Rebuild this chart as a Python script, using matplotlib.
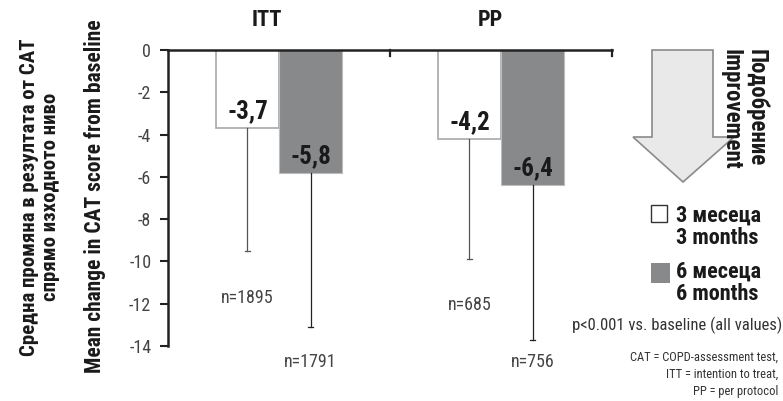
import matplotlib
matplotlib.use("Agg")
import matplotlib.pyplot as plt
from matplotlib import font_manager
from matplotlib.font_manager import FontProperties
from matplotlib.patches import Polygon, Rectangle
import numpy as np

# ---- data ----
groups = ["ITT", "PP"]
series = ["3 месеца\n3 months", "6 месеца\n6 months"]
means_3m = [-3.7, -4.2]
means_6m = [-5.8, -6.4]
err_low_3m = [-9.5, -9.9]
err_low_6m = [-13.1, -13.7]
labels_3m = ["-3,7", "-4,2"]
labels_6m = ["-5,8", "-6,4"]
n_3m = ["n=1895", "n=685"]
n_6m = ["n=1791", "n=756"]
n_3m_y = [-11.75, -12.05]
n_6m_y = [-14.75, -14.75]
yticks = [0, -2, -4, -6, -8, -10, -12, -14]

# ---- find a condensed font ----
cond = []
for f in font_manager.fontManager.ttflist:
    nm = f.name.lower()
    fn = f.fname.lower()
    st = str(f.stretch).lower()
    if ("narrow" in nm or "condensed" in nm or "condensed" in fn or "narrow" in fn
            or st in ("condensed", "semi-condensed", "extra-condensed", "ultra-condensed")
            or (isinstance(f.stretch, int) and f.stretch < 500)):
        cond.append(f)

def pick(bold):
    best = None
    for f in cond:
        w = f.weight if isinstance(f.weight, int) else (700 if "bold" in str(f.weight) else 400)
        if f.style != "normal":
            continue
        isb = w >= 600
        if isb != bold:
            continue
        score = 0
        if "dejavu" in f.name.lower():
            score += 1
        if "liberation" in f.name.lower():
            score += 3
        if "roboto" in f.name.lower():
            score += 2
        if "light" in f.fname.lower() or "thin" in f.fname.lower() or "medium" in f.fname.lower() \
                or "black" in f.fname.lower() or "semi" in f.fname.lower() or "extra" in f.fname.lower():
            score -= 5
        if best is None or score > best[0]:
            best = (score, f.fname)
    return best[1] if best else None

reg_path = pick(False)
bold_path = pick(True)

def fp(size, bold=False):
    p = bold_path if bold else reg_path
    if p:
        return FontProperties(fname=p, size=size)
    return FontProperties(family="DejaVu Sans", size=size * 0.85,
                          weight="bold" if bold else "normal")

W, H = 783, 401
fig = plt.figure(figsize=(W / 100, H / 100), dpi=100)

def px(x, y):
    return (x / W, 1 - y / H)

ax = fig.add_axes([168 / W, 1 - 346 / H, (612 - 168) / W, (346 - 50) / H])
ax.set_xlim(-0.5, 1.5)
ax.set_ylim(-14, 0)

x = np.arange(len(groups))
bw = 0.284
c_white_edge = "#a8a8a8"
c_gray = "#88898b"
ax.bar(x - bw / 2, means_3m, bw, color="white", edgecolor=c_white_edge, linewidth=1.2, zorder=2)
ax.bar(x + bw / 2, means_6m, bw, color=c_gray, edgecolor="#bdbdbd", linewidth=0.8, zorder=2)

for i in range(len(groups)):
    for xc, m, lo, col in [(x[i] - bw / 2, means_3m[i], err_low_3m[i], "#555555"),
                           (x[i] + bw / 2, means_6m[i], err_low_6m[i], "#222222")]:
        ax.plot([xc, xc], [m, lo], color=col, lw=0.9, zorder=3)
        ax.plot([xc - 0.012, xc + 0.012], [lo, lo], color=col, lw=0.9, zorder=3)
    ax.text(x[i] - bw / 2, means_3m[i] + 0.8, labels_3m[i], ha="center", va="center",
            fontproperties=fp(18, True), color="#1a1a1a")
    ax.text(x[i] + bw / 2, means_6m[i] + 0.8, labels_6m[i], ha="center", va="center",
            fontproperties=fp(18, True), color="#1a1a1a")
    ax.text(x[i] - bw / 2, n_3m_y[i], n_3m[i], ha="center", va="center",
            fontproperties=fp(13), color="#444444", clip_on=False)
    ax.text(x[i] + bw / 2, n_6m_y[i], n_6m[i], ha="center", va="center",
            fontproperties=fp(13), color="#444444", clip_on=False)

for s in ["bottom", "right"]:
    ax.spines[s].set_visible(False)
ax.spines["left"].set_linewidth(1.8)
ax.spines["top"].set_linewidth(1.8)
ax.spines["left"].set_color("#222222")
ax.spines["top"].set_color("#222222")
ax.set_yticks(yticks)
ax.set_yticklabels([str(t) for t in yticks], color="#444444")
for lab in ax.get_yticklabels():
    lab.set_fontproperties(fp(13))
ax.tick_params(axis="y", direction="out", length=6, width=1.5, color="#222222", pad=6)
ax.set_xticks([])
ax.xaxis.set_ticks_position("none")
for xt in [0.5, 1.5]:
    ax.plot([xt, xt], [0, -0.3], color="#222222", lw=1.6, clip_on=False, zorder=4)

# group titles
fig.text(*px(267, 20), groups[0], ha="center", va="center", fontproperties=fp(16, True), color="#1a1a1a")
fig.text(*px(490, 20), groups[1], ha="center", va="center", fontproperties=fp(16, True), color="#1a1a1a")

# y labels
fig.text(*px(40, 197), "Средна промяна в резултата от CAT\nспрямо изходното ниво", rotation=90,
         ha="center", va="center", fontproperties=fp(15, True), color="#1a1a1a", linespacing=1.15)
fig.text(*px(95, 196), "Mean change in CAT score from baseline", rotation=90,
         ha="center", va="center", fontproperties=fp(15.5, True), color="#1a1a1a")

# improvement arrow
pts = [px(652, 50), px(713, 50), px(713, 137), px(734, 137), px(683, 182),
       px(633, 137), px(652, 137)]
fig.add_artist(Polygon(pts, closed=True, transform=fig.transFigure, facecolor="#e9e9e9",
                       edgecolor="#8a8a8a", linewidth=1.2))
fig.text(*px(756, 49), "Подобрение", rotation=-90, ha="center", va="top",
         fontproperties=fp(16.5, True), color="#1a1a1a")
fig.text(*px(731, 49), "Improvement", rotation=-90, ha="center", va="top",
         fontproperties=fp(16.5, True), color="#1a1a1a")

# legend
fig.add_artist(Rectangle(px(651, 222), 16 / W, 17 / H, transform=fig.transFigure,
                         facecolor="white", edgecolor="#333333", linewidth=1))
fig.add_artist(Rectangle(px(651, 283), 19 / W, 20 / H, transform=fig.transFigure,
                         facecolor=c_gray, edgecolor="none"))
fig.text(*px(676, 227), series[0], ha="left", va="center", fontproperties=fp(16, True),
         color="#1a1a1a", linespacing=1.0)
fig.text(*px(676, 283), series[1], ha="left", va="center", fontproperties=fp(16, True),
         color="#1a1a1a", linespacing=1.0)

# notes
fig.text(*px(782, 325), "p<0.001 vs. baseline (all values)", ha="right", va="center",
         fontproperties=fp(12), color="#333333")
fig.text(*px(778, 357), "CAT = COPD-assessment test,", ha="right", va="center", fontproperties=fp(9), color="#333333")
fig.text(*px(778, 374), "ITT = intention to treat,", ha="right", va="center", fontproperties=fp(9), color="#333333")
fig.text(*px(778, 392), "PP = per protocol", ha="right", va="center", fontproperties=fp(9), color="#333333")

fig.savefig("out.png", dpi=100)
